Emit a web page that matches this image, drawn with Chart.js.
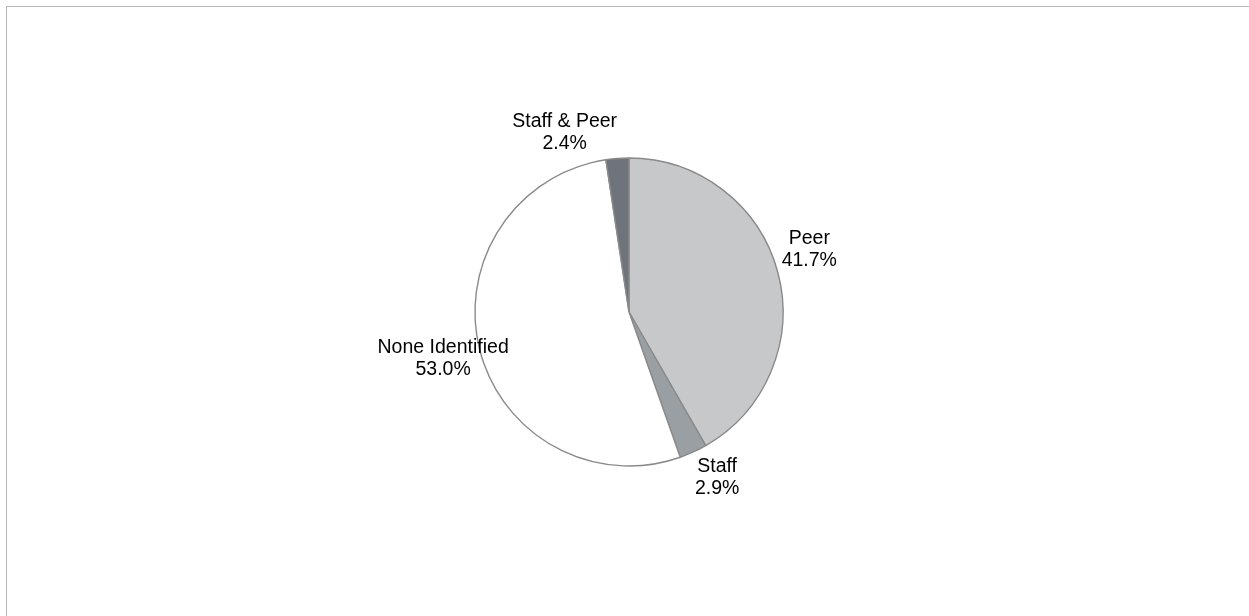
<!DOCTYPE html>
<html>
<head>
<meta charset="utf-8">
<script src="https://cdn.jsdelivr.net/npm/chart.js@4"></script>
<style>
  html, body { margin: 0; padding: 0; background: #ffffff; }
  #wrap { position: relative; width: 1249px; height: 616px; }
  #frame { position: absolute; left: 6px; top: 6px; right: 0; bottom: 0;
           border-top: 1px solid #b8b8b8; border-left: 1px solid #b8b8b8; }
  canvas { position: absolute; left: 0; top: 0; }
</style>
</head>
<body>
<div id="wrap">
  <div id="frame"></div>
  <canvas id="c" width="1249" height="616"></canvas>
</div>
<script>
// Reporting source breakdown (share of cases, %)
const categories = ['Peer', 'Staff', 'None Identified', 'Staff & Peer'];
const shares = [41.7, 2.9, 53.0, 2.4];
const sliceColors = ['#c6c8c9', '#9a9fa4', '#ffffff', '#6f747c'];

const FONT = { family: 'Arial, "Liberation Sans", Helvetica, sans-serif', size: 19.5 };
const LINE_H = 22;

// Category + percentage labels placed just outside each slice
const outsideLabels = {
  id: 'outsideLabels',
  afterDatasetsDraw(chart, args, opts) {
    const ctx = chart.ctx;
    const meta = chart.getDatasetMeta(0);
    const values = chart.data.datasets[0].data;
    ctx.save();
    ctx.font = `${FONT.size}px ${FONT.family}`;
    ctx.fillStyle = '#000000';
    ctx.textAlign = 'center';
    ctx.textBaseline = 'middle';
    meta.data.forEach((arc, i) => {
      const mid = (arc.startAngle + arc.endAngle) / 2;
      const dx = Math.cos(mid), dy = Math.sin(mid);
      const r = arc.outerRadius + opts.gap;
      const ax = arc.x + dx * r, ay = arc.y + dy * r;
      const lines = [chart.data.labels[i], values[i].toFixed(1) + '%'];
      const w = Math.max(...lines.map(t => ctx.measureText(t).width));
      const h = LINE_H * lines.length;
      // box corner sits on the anchor point, box extends away from the pie
      let cx = ax + Math.sign(dx) * w / 2;
      let cy = ay + Math.sign(dy) * h / 2;
      const n = opts.nudge[i];
      if (n) { cx += n[0]; cy += n[1]; }
      lines.forEach((t, k) => {
        ctx.fillText(t, cx, cy - h / 2 + LINE_H * (k + 0.5));
      });
    });
    ctx.restore();
  }
};

new Chart(document.getElementById('c'), {
  type: 'pie',
  data: {
    labels: categories,
    datasets: [{
      data: shares,
      backgroundColor: sliceColors,
      borderColor: '#8a8a8a',
      borderWidth: 1.4,
      radius: 154
    }]
  },
  options: {
    responsive: false,
    animation: false,
    rotation: 0,
    layout: { padding: { left: 9, top: 8 } },
    plugins: {
      legend: { display: false },
      tooltip: { enabled: false },
      outsideLabels: { gap: 4, nudge: { 2: [33, -14] } }
    }
  },
  plugins: [outsideLabels]
});
</script>
</body>
</html>
